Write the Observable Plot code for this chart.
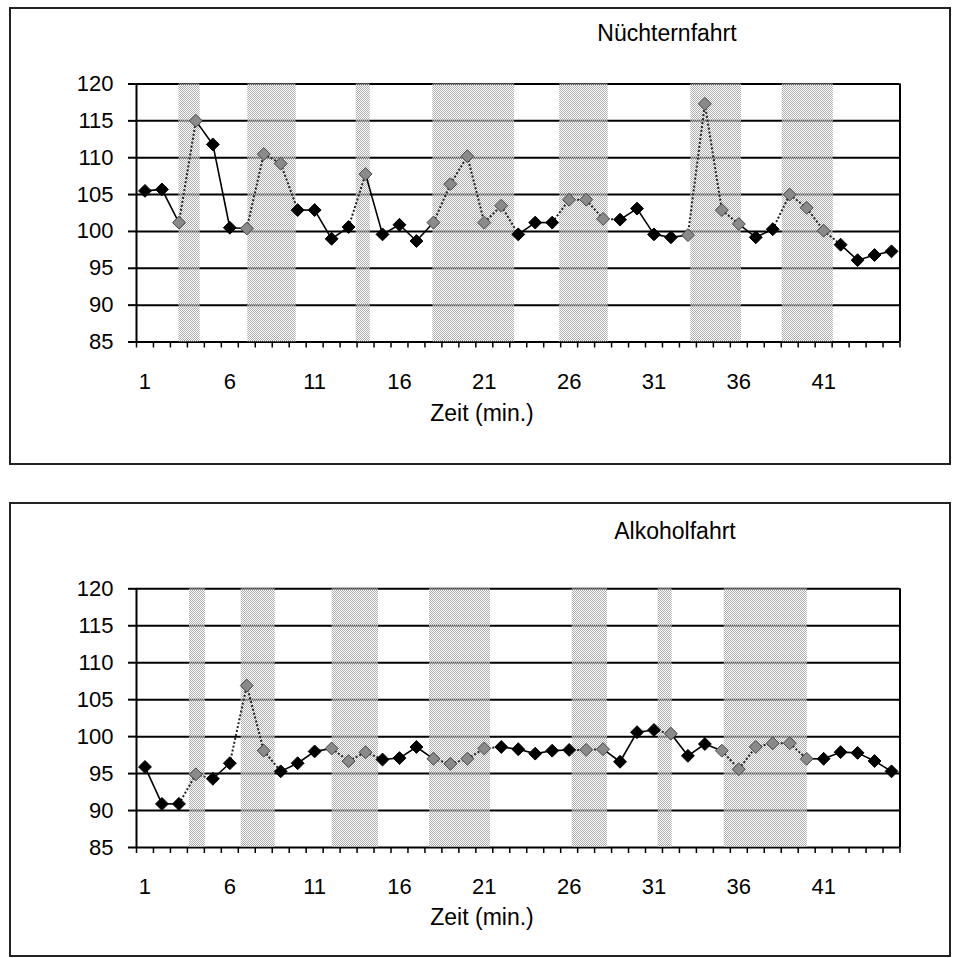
<!DOCTYPE html>
<html><head><meta charset="utf-8">
<script src="https://cdn.jsdelivr.net/npm/d3@7"></script>
<script src="https://cdn.jsdelivr.net/npm/@observablehq/plot@0.6"></script>
<style>
body{margin:0;background:#fff;width:953px;height:958px;position:relative;overflow:hidden;font-family:"Liberation Sans",Arial,sans-serif;}
.frame{position:absolute;border:2px solid #222;box-sizing:border-box;pointer-events:none;}
.lbl{position:absolute;font-size:23px;color:#000;white-space:nowrap;transform:translate(-50%,-50%);line-height:1;}
.chart{position:absolute;left:0;}
</style></head><body>
<div id="c1" class="chart" style="top:0px"></div>
<div id="c2" class="chart" style="top:490px"></div>
<div class="frame" style="left:9px;top:7px;width:942px;height:458px"></div>
<div class="frame" style="left:9px;top:502px;width:942px;height:455px"></div>
<div class="lbl" style="left:667px;top:33px">Nüchternfahrt</div>
<div class="lbl" style="left:482px;top:413px">Zeit (min.)</div>
<div class="lbl" style="left:675px;top:531px">Alkoholfahrt</div>
<div class="lbl" style="left:482px;top:917px">Zeit (min.)</div>
<script>
// ---- data ----
const minutes = d3.range(1, 46);
const nuechternValues = [105.5,105.7,101.2,115.0,111.8,100.5,100.4,110.5,109.2,102.9,
  102.9,99.0,100.6,107.8,99.6,100.9,98.7,101.2,106.4,110.2,
  101.2,103.5,99.6,101.2,101.2,104.3,104.3,101.7,101.6,103.1,
  99.6,99.2,99.5,117.3,102.9,101.0,99.2,100.3,105.0,103.2,
  100.1,98.2,96.1,96.8,97.3];
const alkoholValues = [95.9,90.9,90.9,94.9,94.3,96.4,106.9,98.1,95.3,96.4,
  98.0,98.4,96.7,97.9,96.9,97.1,98.6,97.0,96.3,97.0,
  98.4,98.6,98.3,97.7,98.1,98.2,98.2,98.3,96.6,100.6,
  100.9,100.4,97.4,99.0,98.1,95.6,98.6,99.1,99.1,97.0,
  97.0,97.9,97.8,96.7,95.3];
const nuechternMarked = [3,4,7,8,9,14,18,19,20,21,22,26,27,28,33,34,35,36,39,40,41];
const alkoholMarked = [4,7,8,12,13,14,18,19,20,21,27,28,32,35,36,37,38,39,40];
const nuechternPhases = [[3.0,4.25],[7.06,9.91],[13.45,14.28],[17.97,22.79],[25.44,28.3],[33.17,36.16],[38.56,41.57]];
const alkoholPhases = [[3.62,4.56],[6.67,8.67],[12.03,14.77],[17.77,21.36],[26.18,28.26],[31.25,32.07],[35.14,40.04]];
const yTicks = [85,90,95,100,105,110,115,120];
const xTickLabels = [1,6,11,16,21,26,31,36,41];

function makeChart({values, marked, phases, height, marginTop, marginBottom, patId}) {
  const pts = minutes.map((m, i) => ({m, v: values[i], grey: marked.includes(m)}));
  const inPhase = x => phases.some(([a, b]) => x >= a - 0.2 && x <= b + 0.2);
  const segs = d3.pairs(pts).map(([p, q]) => ({x1: p.m, y1: p.v, x2: q.m, y2: q.v, dotted: inPhase((p.m + q.m) / 2)}));
  const bands = phases.map(([a, b]) => ({a, b, lo: yTicks[0], hi: yTicks[yTicks.length - 1]}));
  const boundaries = d3.range(0, minutes.length + 1).map(i => i + 0.5);
  const svg = Plot.plot({
    width: 953, height, marginLeft: 136, marginRight: 53.5, marginTop, marginBottom,
    style: {fontFamily: "'Liberation Sans', Arial, sans-serif", fontSize: "22px", background: "transparent", color: "#000", overflow: "visible"},
    x: {type: "linear", domain: [0.5, minutes.length + 0.5], label: null},
    y: {domain: [yTicks[0], yTicks[yTicks.length - 1]], label: null},
    marks: [
      Plot.ruleY(yTicks, {stroke: "#000", strokeWidth: 2}),
      Plot.rect(bands, {x1: "a", x2: "b", y1: "lo", y2: "hi", fill: `url(#${patId})`}),
      Plot.ruleX([0.5, minutes.length + 0.5], {stroke: "#000", strokeWidth: 2}),
      Plot.axisY(yTicks, {tickSize: 8, tickPadding: 15, fontSize: 22, strokeWidth: 2, label: null}),
      Plot.axisX(boundaries, {tickSize: 6, tickFormat: () => "", strokeWidth: 1.5, label: null}),
      Plot.axisX(xTickLabels, {tickSize: 0, tickPadding: 31, fontSize: 22, label: null, tickFormat: d => String(d)}),
      Plot.link(segs.filter(d => !d.dotted), {x1: "x1", y1: "y1", x2: "x2", y2: "y2", stroke: "#000", strokeWidth: 1.6}),
      Plot.link(segs.filter(d => d.dotted), {x1: "x1", y1: "y1", x2: "x2", y2: "y2", stroke: "#222", strokeWidth: 2, strokeDasharray: "2,2"}),
      Plot.dot(pts.filter(d => !d.grey), {x: "m", y: "v", symbol: "diamond2", r: 5.8, fill: "#000", stroke: "#000", strokeWidth: 1}),
      Plot.dot(pts.filter(d => d.grey), {x: "m", y: "v", symbol: "diamond2", r: 5.8, fill: "#8a8a8a", stroke: "#444", strokeWidth: 1})
    ]
  });
  const ns = "http://www.w3.org/2000/svg";
  const defs = document.createElementNS(ns, "defs");
  defs.innerHTML = `<pattern id="${patId}" width="2" height="2" patternUnits="userSpaceOnUse"><rect width="1" height="1" fill="#adadad"/><rect x="1" y="1" width="1" height="1" fill="#adadad"/><rect x="1" y="0" width="1" height="1" fill="#ffffff" fill-opacity="0.35"/><rect x="0" y="1" width="1" height="1" fill="#ffffff" fill-opacity="0.35"/></pattern>`;
  svg.prepend(defs);
  return svg;
}

document.getElementById("c1").appendChild(makeChart({
  values: nuechternValues, marked: nuechternMarked, phases: nuechternPhases,
  height: 490, marginTop: 83.5, marginBottom: 148.5, patId: "patTop"
}));
document.getElementById("c2").appendChild(makeChart({
  values: alkoholValues, marked: alkoholMarked, phases: alkoholPhases,
  height: 468, marginTop: 98.3, marginBottom: 111, patId: "patBottom"
}));
</script>
</body></html>
